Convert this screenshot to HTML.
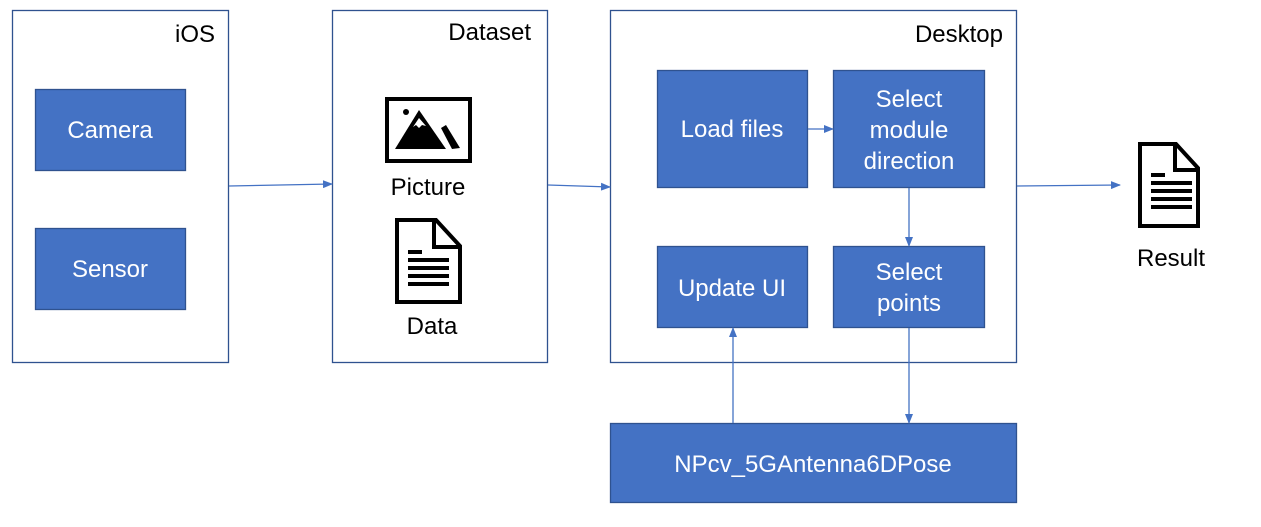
<!DOCTYPE html>
<html><head><meta charset="utf-8"><style>
html,body{margin:0;padding:0;background:#fff;}
svg{display:block;}
text{font-family:"Liberation Sans",sans-serif;font-size:24px;}
.w{fill:#fff;}
.k{fill:#000;}
</style></head><body>
<svg width="1261" height="527" viewBox="0 0 1261 527" xmlns="http://www.w3.org/2000/svg">
<defs>
<marker id="a" markerWidth="10" markerHeight="8" refX="9" refY="4" orient="auto" markerUnits="userSpaceOnUse">
<path d="M0,0 L10,4 L0,8 Z" fill="#4472C4"/>
</marker>
</defs>
<g fill="#fff" stroke="#2F528F" stroke-width="1.3">
<rect x="12.5" y="10.5" width="216" height="352"/>
<rect x="332.5" y="10.5" width="215" height="352"/>
<rect x="610.5" y="10.5" width="406" height="352"/>
</g>
<g fill="#4472C4" stroke="#2F528F" stroke-width="1.3">
<rect x="35.5" y="89.5" width="150" height="81"/>
<rect x="35.5" y="228.5" width="150" height="81"/>
<rect x="657.5" y="70.5" width="150" height="117"/>
<rect x="833.5" y="70.5" width="151" height="117"/>
<rect x="657.5" y="246.5" width="150" height="81"/>
<rect x="833.5" y="246.5" width="151" height="81"/>
<rect x="610.5" y="423.5" width="406" height="79"/>
</g>
<g class="k">
<text x="215" y="42" text-anchor="end">iOS</text>
<text x="531" y="40" text-anchor="end">Dataset</text>
<text x="1003" y="42" text-anchor="end">Desktop</text>
<text x="428" y="195" text-anchor="middle">Picture</text>
<text x="432" y="334" text-anchor="middle">Data</text>
<text x="1171" y="266" text-anchor="middle">Result</text>
</g>
<g class="w" text-anchor="middle">
<text x="110" y="138">Camera</text>
<text x="110" y="277">Sensor</text>
<text x="732" y="137">Load files</text>
<text x="909" y="107">Select</text>
<text x="909" y="138">module</text>
<text x="909" y="169">direction</text>
<text x="732" y="296">Update UI</text>
<text x="909" y="280">Select</text>
<text x="909" y="311">points</text>
<text x="813" y="472">NPcv_5GAntenna6DPose</text>
</g>
<g stroke="#4472C4" stroke-width="1.3" fill="none" marker-end="url(#a)">
<line x1="229" y1="186" x2="332" y2="184"/>
<line x1="548" y1="185" x2="610" y2="187"/>
<line x1="1017" y1="186" x2="1120" y2="185"/>
<line x1="808" y1="129" x2="833" y2="129"/>
<line x1="909" y1="188" x2="909" y2="246"/>
<line x1="909" y1="328" x2="909" y2="423"/>
<line x1="733" y1="423" x2="733" y2="328"/>
</g>
<rect x="387" y="99" width="83" height="62" fill="none" stroke="#000" stroke-width="4"/>
<circle cx="406" cy="112" r="3" fill="#000"/>
<path d="M395,149 L419,110 L446,149 Z" fill="#000"/>
<path d="M413,127 L419,118 L426,126 L422,125 L419,128 L416,125 Z" fill="#fff"/>
<path d="M441,128 L446,125 L460,148 L452,149 Z" fill="#000"/>
<path d="M397,220 L436,220 L460,246 L460,302 L397,302 Z" fill="none" stroke="#000" stroke-width="4"/>
<path d="M434,220 L434,247 L460,247" fill="none" stroke="#000" stroke-width="4"/>
<g fill="#000">
<rect x="408" y="250" width="14" height="4"/>
<rect x="408" y="258" width="41" height="4"/>
<rect x="408" y="266" width="41" height="4"/>
<rect x="408" y="274" width="41" height="4"/>
<rect x="408" y="282" width="41" height="4"/>
</g>
<path d="M1140,144 L1176,144 L1198,168 L1198,226 L1140,226 Z" fill="none" stroke="#000" stroke-width="4"/>
<path d="M1175,144 L1175,170 L1198,170" fill="none" stroke="#000" stroke-width="4"/>
<g fill="#000">
<rect x="1151" y="173" width="14" height="4"/>
<rect x="1151" y="181" width="41" height="4"/>
<rect x="1151" y="189" width="41" height="4"/>
<rect x="1151" y="197" width="41" height="4"/>
<rect x="1151" y="205" width="41" height="4"/>
</g>
</svg>
</body></html>
